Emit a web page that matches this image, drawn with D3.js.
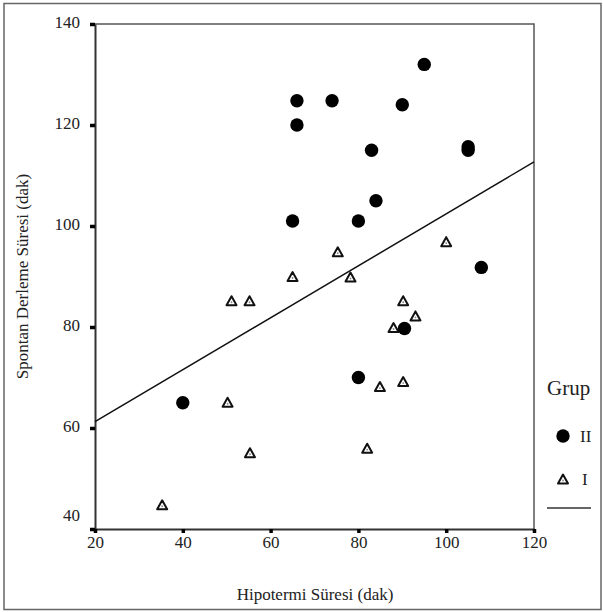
<!DOCTYPE html>
<html>
<head>
<meta charset="utf-8">
<script src="https://cdn.jsdelivr.net/npm/d3@7"></script>
<style>
    body { margin: 0; background: #fff; }
    text { font-family: "Liberation Serif", "Times New Roman", serif; fill: #222; }
</style>
</head>
<body>
<div id="scatter"></div>
<script>
// Grup II (dolu daire)
var group2X = [40, 65, 66, 66, 74, 80, 83, 84, 90, 95, 105, 105, 108, 90.5, 80];
var group2Y = [65, 101, 124.8, 120, 124.8, 101, 115, 105, 124, 132, 115.7, 115, 91.8, 79.7, 70];

// Grup I (ucgen)
var group1X = [35.3, 50.2, 51.1, 55.2, 55.3, 65, 75.3, 78.2, 82, 84.9, 88, 90.2, 90.2, 93, 100];
var group1Y = [44.8, 65.1, 85.2, 85.2, 55.1, 90, 94.9, 89.9, 56, 68.2, 79.9, 85.2, 69.2, 82.2, 96.9];

// regresyon dogrusu uclari
var fitX = [20, 120];
var fitY = [61.25, 112.7];

var xTicks = [20, 40, 60, 80, 100, 120];
var yTicks = [40, 60, 80, 100, 120, 140];

var width = 603,
    height = 612;

var plot = { left: 95, right: 534, top: 24, bottom: 529 };

var svg = d3.select("#scatter").append("svg")
    .attr("width", width)
    .attr("height", height);

// dis cerceve
svg.append("rect")
    .attr("x", 4)
    .attr("y", 3.5)
    .attr("width", 597)
    .attr("height", 606)
    .attr("fill", "none")
    .attr("stroke", "#666")
    .attr("stroke-width", 1.5);

var x = d3.scaleLinear()
    .domain([20, 120])
    .range([plot.left, plot.right]);

var y = d3.scaleLinear()
    .domain([40, 140])
    .range([plot.bottom, plot.top]);

// ust ve sag kenar
svg.append("path")
    .attr("d", "M" + x(20) + "," + y(140) + "H" + x(120) + "V" + y(40))
    .attr("fill", "none")
    .attr("stroke", "#555")
    .attr("stroke-width", 1.5);

var yAxis = d3.axisLeft(y)
    .tickValues(yTicks)
    .tickSize(5)
    .tickSizeOuter(0)
    .tickPadding(10);

var xAxis = d3.axisBottom(x)
    .tickValues(xTicks)
    .tickSize(4)
    .tickSizeOuter(0)
    .tickPadding(3);

var gy = svg.append("g")
    .attr("transform", "translate(" + plot.left + ",0)")
    .call(yAxis);

var gx = svg.append("g")
    .attr("transform", "translate(0," + plot.bottom + ")")
    .call(xAxis);

[gx, gy].forEach(function (g) {
    g.select(".domain")
        .attr("stroke", "#333")
        .attr("stroke-width", 2);
    g.selectAll(".tick line")
        .attr("stroke", "#000")
        .attr("stroke-width", 3.5);
    g.selectAll(".tick text")
        .attr("font-family", "Liberation Serif, serif")
        .attr("font-size", 17)
        .attr("fill", "#222");
});

gy.selectAll(".tick text")
    .attr("dy", function (d) {
        return d === 40 ? "-0.5em" : "0.2em";
    });

// eksen basliklari
svg.append("text")
    .attr("transform", "translate(28," + ((plot.top + plot.bottom) / 2) + ") rotate(-90)")
    .attr("text-anchor", "middle")
    .attr("font-size", 17)
    .text("Spontan Derleme Süresi (dak)");

svg.append("text")
    .attr("x", 315)
    .attr("y", 600)
    .attr("text-anchor", "middle")
    .attr("font-size", 17)
    .text("Hipotermi Süresi (dak)");

// regresyon dogrusu
svg.append("line")
    .attr("x1", x(fitX[0]))
    .attr("y1", y(fitY[0]))
    .attr("x2", x(fitX[1]))
    .attr("y2", y(fitY[1]))
    .attr("stroke", "#111")
    .attr("stroke-width", 1.5);

function triPath(w, h) {
    return "M0," + (-h / 2) + "L" + (w / 2) + "," + (h / 2) + "L" + (-w / 2) + "," + (h / 2) + "Z";
}

var group1 = group1X.map(function (v, i) { return { x: v, y: group1Y[i] }; });
var group2 = group2X.map(function (v, i) { return { x: v, y: group2Y[i] }; });

var tri = svg.selectAll(".tri")
    .data(group1)
    .enter().append("g")
    .attr("class", "tri")
    .attr("transform", function (d) {
        return "translate(" + x(d.x) + "," + y(d.y) + ")";
    });

tri.append("path")
    .attr("d", triPath(10, 9))
    .attr("fill", "#fff")
    .attr("stroke", "#111")
    .attr("stroke-width", 2)
    .attr("stroke-linejoin", "round");

tri.append("circle")
    .attr("cy", 1.5)
    .attr("r", 0.9)
    .attr("fill", "#888");

svg.selectAll(".dot")
    .data(group2)
    .enter().append("circle")
    .attr("class", "dot")
    .attr("cx", function (d) { return x(d.x); })
    .attr("cy", function (d) { return y(d.y); })
    .attr("r", 6.7)
    .attr("fill", "#000");

// lejant
var legend = svg.append("g");

legend.append("text")
    .attr("x", 547)
    .attr("y", 395)
    .attr("font-size", 21)
    .text("Grup");

legend.append("circle")
    .attr("cx", 563)
    .attr("cy", 436)
    .attr("r", 6.7)
    .attr("fill", "#000");

legend.append("text")
    .attr("x", 580)
    .attr("y", 442)
    .attr("font-size", 17)
    .text("II");

var legTri = legend.append("g")
    .attr("transform", "translate(563,479)");

legTri.append("path")
    .attr("d", triPath(10, 9))
    .attr("fill", "#fff")
    .attr("stroke", "#111")
    .attr("stroke-width", 2)
    .attr("stroke-linejoin", "round");

legTri.append("circle")
    .attr("cy", 1.5)
    .attr("r", 0.9)
    .attr("fill", "#888");

legend.append("text")
    .attr("x", 582)
    .attr("y", 485)
    .attr("font-size", 17)
    .text("I");

legend.append("line")
    .attr("x1", 547)
    .attr("x2", 591)
    .attr("y1", 508)
    .attr("y2", 508)
    .attr("stroke", "#333")
    .attr("stroke-width", 1.5);
</script>
</body>
</html>
